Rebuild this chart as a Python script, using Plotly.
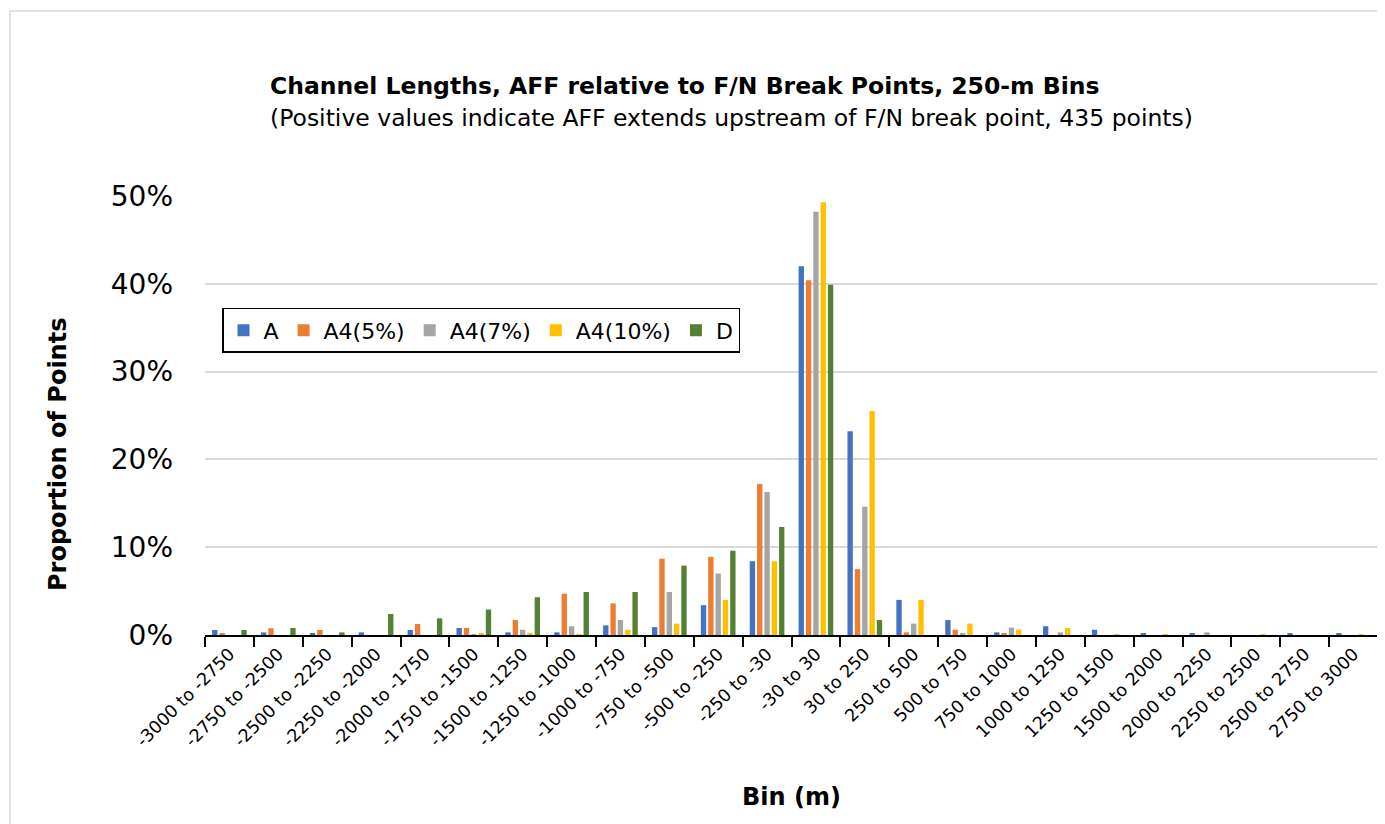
import plotly.graph_objects as go

categories = ["-3000 to -2750", "-2750 to -2500", "-2500 to -2250", "-2250 to -2000",
              "-2000 to -1750", "-1750 to -1500", "-1500 to -1250", "-1250 to -1000",
              "-1000 to -750", "-750 to -500", "-500 to -250", "-250 to -30",
              "-30 to 30", "30 to 250", "250 to 500", "500 to 750", "750 to 1000",
              "1000 to 1250", "1250 to 1500", "1500 to 2000", "2000 to 2250",
              "2250 to 2500", "2500 to 2750", "2750 to 3000"]

# proportion of points, in percent
a_vals = [0.57, 0.3, 0.15, 0.3, 0.57, 0.8, 0.3, 0.3, 1.1, 0.9, 3.4, 8.4,
          42.0, 23.2, 4.0, 1.7, 0.3, 1.0, 0.6, 0.15, 0.15, 0, 0.15, 0.15]
a5_vals = [0.15, 0.77, 0.57, 0, 1.25, 0.8, 1.7, 4.7, 3.6, 8.7, 8.9, 17.2,
           40.4, 7.5, 0.3, 0.6, 0.15, 0, 0, 0, 0, 0, 0, 0]
a7_vals = [0, 0, 0, 0, 0, 0.1, 0.6, 1.0, 1.7, 4.9, 7.0, 16.3,
           48.2, 14.6, 1.3, 0.15, 0.85, 0.3, 0, 0, 0.3, 0, 0, 0]
a10_vals = [0, 0, 0, 0, 0, 0.15, 0.25, 0.1, 0.6, 1.3, 4.0, 8.4,
            49.3, 25.5, 4.0, 1.3, 0.6, 0.8, 0.1, 0.1, 0, 0.1, 0, 0.1]
d_vals = [0.57, 0.8, 0.3, 2.4, 1.9, 2.9, 4.3, 4.9, 4.9, 7.9, 9.6, 12.3,
          39.9, 1.7, 0, 0, 0, 0, 0, 0, 0, 0, 0, 0]

series = [("A", a_vals, "#4472C4"),
          ("A4(5%)", a5_vals, "#ED7D31"),
          ("A4(7%)", a7_vals, "#A5A5A5"),
          ("A4(10%)", a10_vals, "#FFC000"),
          ("D", d_vals, "#548235")]

font = "DejaVu Sans"

fig = go.Figure()
for name, vals, col in series:
    fig.add_trace(go.Bar(x=categories, y=vals, name=name, marker_color=col,
                         marker_line_width=0))

fig.update_layout(
    width=1385, height=824,
    margin=dict(l=197, r=15, t=188, b=197),
    paper_bgcolor="white", plot_bgcolor="white",
    barmode="group", bargap=0.25, bargroupgap=0.27,
    font=dict(family=font, color="black"),
    showlegend=True,
    legend=dict(orientation="h", x=0.0145, y=0.745, xanchor="left", yanchor="top",
                bordercolor="black", borderwidth=1.5, font=dict(size=22),
                bgcolor="white", itemsizing="constant", itemwidth=30),
    xaxis=dict(tickangle=-45, tickfont=dict(size=17.5), showline=True,
               linecolor="black", linewidth=2, ticks="outside", ticklen=10,
               tickwidth=2, tickcolor="black", tickson="boundaries",
               showgrid=False),
    yaxis=dict(range=[0, 50], dtick=10, ticksuffix="%", tickfont=dict(size=28),
               showgrid=True, gridcolor="#D9D9D9", gridwidth=2,
               zeroline=False, showline=False, ticklabelstandoff=31),
)

fig.add_shape(type="rect", xref="paper", yref="paper",
              x0=-0.1662, x1=1.005, y0=-0.45, y1=1.4214,
              line=dict(color="#D9D9D9", width=1.5), layer="below")

fig.add_annotation(text="<b>Channel Lengths, AFF relative to F/N Break Points, 250-m Bins</b>",
                   xref="paper", yref="paper", x=0.0537, y=1.251,
                   xanchor="left", yanchor="middle", showarrow=False,
                   font=dict(size=23.5))
fig.add_annotation(text="(Positive values indicate AFF extends upstream of F/N break point, 435 points)",
                   xref="paper", yref="paper", x=0.0537, y=1.1776,
                   xanchor="left", yanchor="middle", showarrow=False,
                   font=dict(size=23.5))
fig.add_annotation(text="<b>Proportion of Points</b>", textangle=-90,
                   xref="paper", yref="paper", x=-0.1253, y=0.41,
                   xanchor="center", yanchor="middle", showarrow=False,
                   font=dict(size=24))
fig.add_annotation(text="<b>Bin (m)</b>",
                   xref="paper", yref="paper", x=0.5, y=-0.369,
                   xanchor="center", yanchor="middle", showarrow=False,
                   font=dict(size=24))

fig.write_html("out.html")
